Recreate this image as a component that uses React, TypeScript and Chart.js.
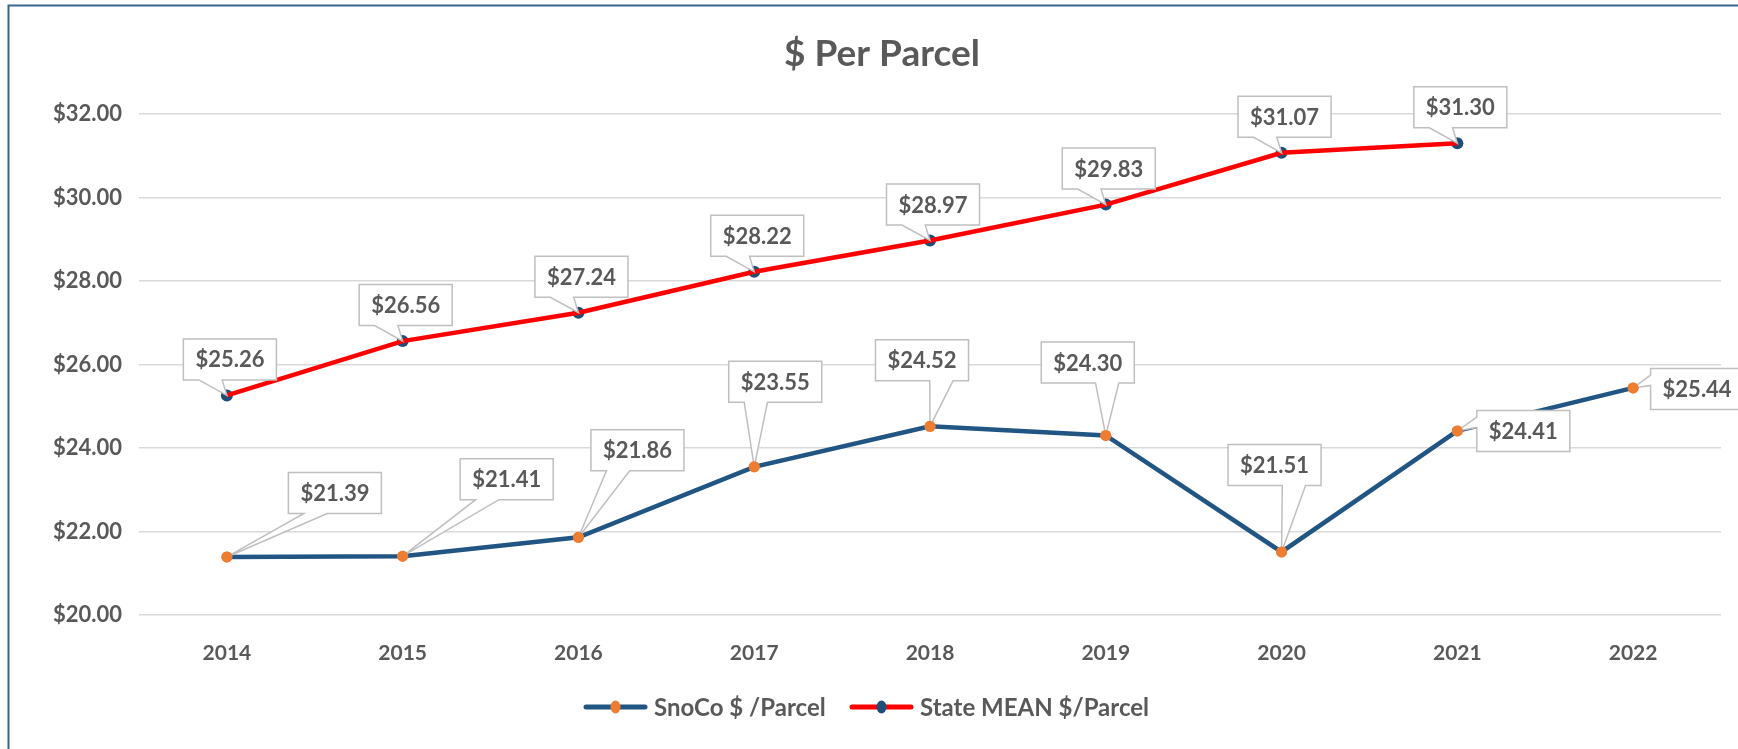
import React, { useEffect, useRef } from 'react';
import { Chart, registerables } from 'chart.js';

Chart.register(...registerables);

// ---------- data ----------
const categories = ['2014', '2015', '2016', '2017', '2018', '2019', '2020', '2021', '2022'];
const snocoValues = [21.39, 21.41, 21.86, 23.55, 24.52, 24.3, 21.51, 24.41, 25.44];
const stateValues: (number | null)[] = [25.26, 26.56, 27.24, 28.22, 28.97, 29.83, 31.07, 31.3, null];
const yTickValues = [20, 22, 24, 26, 28, 30, 32];
const seriesNames = ['SnoCo $ /Parcel', 'State MEAN $/Parcel'];
const chartTitle = '$ Per Parcel';

// ---------- label placement (box centre relative to point, px) ----------
const snocoLabelOffsets = [
  [108, -64],
  [104, -77],
  [59, -87],
  [21, -85],
  [-8, -66],
  [-18, -73],
  [-7, -87],
  [66, 0],
  [64, 1],
];
const stateLabelOffset = [3, -36];

// ---------- styles ----------
const FONT = 'Lato, "Open Sans", "Liberation Sans", sans-serif';
const TEXT = '#595959';
const SNOCO_LINE = '#215583';
const SNOCO_MARK = '#ED7D31';
const STATE_LINE = '#FF0000';
const STATE_MARK = '#1F4E79';
const GRID = '#D9D9D9';
const FRAME = '#3A6591';

const fmt = (v: number) => '$' + v.toFixed(2);

function drawCallout(
  ctx: CanvasRenderingContext2D,
  cx: number,
  cy: number,
  w: number,
  h: number,
  px: number,
  py: number
) {
  const l = cx - w / 2, t = cy - h / 2, r = cx + w / 2, b = cy + h / 2;
  const dx = px - cx, dy = py - cy;
  const dq = (dx * h) / w;
  const vertical = Math.abs(dy) - Math.abs(dq) > 0;
  ctx.beginPath();
  if (vertical) {
    const x1 = l + (w * (dx > 0 ? 7 : 2)) / 12;
    const x2 = l + (w * (dx > 0 ? 10 : 5)) / 12;
    if (dy > 0) {
      ctx.moveTo(l, t); ctx.lineTo(r, t); ctx.lineTo(r, b); ctx.lineTo(x2, b);
      ctx.lineTo(px, py); ctx.lineTo(x1, b); ctx.lineTo(l, b);
    } else {
      ctx.moveTo(l, t); ctx.lineTo(x1, t); ctx.lineTo(px, py); ctx.lineTo(x2, t);
      ctx.lineTo(r, t); ctx.lineTo(r, b); ctx.lineTo(l, b);
    }
  } else {
    const y1 = t + (h * (dy > 0 ? 7 : 2)) / 12;
    const y2 = t + (h * (dy > 0 ? 10 : 5)) / 12;
    if (dx < 0) {
      ctx.moveTo(l, t); ctx.lineTo(r, t); ctx.lineTo(r, b); ctx.lineTo(l, b);
      ctx.lineTo(l, y2); ctx.lineTo(px, py); ctx.lineTo(l, y1);
    } else {
      ctx.moveTo(l, t); ctx.lineTo(r, t); ctx.lineTo(r, y1); ctx.lineTo(px, py);
      ctx.lineTo(r, y2); ctx.lineTo(r, b); ctx.lineTo(l, b);
    }
  }
  ctx.closePath();
  ctx.fillStyle = '#FFFFFF';
  ctx.fill();
  ctx.strokeStyle = '#BFBFBF';
  ctx.lineWidth = 1.5;
  ctx.stroke();
}

const calloutPlugin = {
  id: 'callouts',
  afterDatasetsDraw(chart: any) {
    const ctx: CanvasRenderingContext2D = chart.ctx;
    ctx.save();
    ctx.font = `bold 22px ${FONT}`;
    const drawSet = (dsIndex: number, values: (number | null)[], offsets: (i: number) => number[]) => {
      const meta = chart.getDatasetMeta(dsIndex);
      values.forEach((v, i) => {
        if (v === null || v === undefined) return;
        const pt = meta.data[i];
        const [ox, oy] = offsets(i);
        const text = fmt(v);
        const tw = ctx.measureText(text).width;
        const w = tw + 24;
        const h = 41;
        const cx = pt.x + ox;
        const cy = pt.y + oy;
        drawCallout(ctx, cx, cy, w, h, pt.x, pt.y);
        ctx.fillStyle = TEXT;
        ctx.textAlign = 'center';
        ctx.textBaseline = 'middle';
        ctx.fillText(text, cx, cy + 1);
      });
    };
    drawSet(2, stateValues, () => stateLabelOffset);
    drawSet(0, snocoValues, (i) => snocoLabelOffsets[i]);
    // redraw SnoCo markers above the callout tails
    const meta0 = chart.getDatasetMeta(0);
    meta0.data.forEach((p: any) => p.draw(ctx, chart.chartArea));
    ctx.restore();
  },
  afterDraw(chart: any) {
    const ctx: CanvasRenderingContext2D = chart.ctx;
    ctx.save();
    // frame (left and top edges of the chart area box)
    ctx.strokeStyle = FRAME;
    ctx.lineWidth = 2;
    ctx.beginPath();
    ctx.moveTo(8.5, 749);
    ctx.lineTo(8.5, 5.5);
    ctx.lineTo(1738, 5.5);
    ctx.stroke();

    // title
    ctx.fillStyle = TEXT;
    ctx.font = `bold 37px ${FONT}`;
    ctx.textAlign = 'center';
    ctx.textBaseline = 'middle';
    ctx.fillText(chartTitle, 882, 54);

    // legend
    const ly = 707;
    const items = [
      { x: 586, line: SNOCO_LINE, mark: SNOCO_MARK, label: seriesNames[0] },
      { x: 852, line: STATE_LINE, mark: STATE_MARK, label: seriesNames[1] },
    ];
    ctx.font = `bold 24px ${FONT}`;
    ctx.textAlign = 'left';
    items.forEach((it) => {
      ctx.strokeStyle = it.line;
      ctx.lineWidth = 5;
      ctx.lineCap = 'round';
      ctx.beginPath();
      ctx.moveTo(it.x, ly);
      ctx.lineTo(it.x + 59, ly);
      ctx.stroke();
      ctx.fillStyle = it.mark;
      ctx.beginPath();
      ctx.ellipse(it.x + 29.5, ly, 5, 6.5, 0, 0, Math.PI * 2);
      ctx.fill();
      ctx.fillStyle = TEXT;
      ctx.fillText(it.label, it.x + 68, ly + 1);
    });
    ctx.restore();
  },
};

export default function App() {
  const canvasRef = useRef<HTMLCanvasElement | null>(null);

  useEffect(() => {
    if (!canvasRef.current) return;
    const chart = new Chart(canvasRef.current, {
      type: 'line',
      data: {
        labels: categories,
        datasets: [
          {
            label: seriesNames[0],
            data: snocoValues,
            borderColor: SNOCO_LINE,
            borderWidth: 4.5,
            pointRadius: 5.5,
            pointBackgroundColor: SNOCO_MARK,
            pointBorderWidth: 0,
            tension: 0,
            order: 1,
          },
          {
            label: seriesNames[1] + ' markers',
            data: stateValues,
            showLine: false,
            pointRadius: 6,
            pointBackgroundColor: STATE_MARK,
            pointBorderWidth: 0,
            order: 3,
          },
          {
            label: seriesNames[1],
            data: stateValues,
            borderColor: STATE_LINE,
            borderWidth: 4.5,
            pointRadius: 0,
            tension: 0,
            order: 2,
          },
        ],
      },
      options: {
        animation: false,
        responsive: true,
        maintainAspectRatio: false,
        devicePixelRatio: 1,
        layout: { padding: { top: 114, right: 17, bottom: 0, left: 0 } },
        plugins: {
          legend: { display: false },
          title: { display: false },
          tooltip: { enabled: false },
        },
        scales: {
          x: {
            type: 'category',
            offset: true,
            grid: { display: false, drawTicks: false },
            border: { display: false },
            ticks: {
              color: TEXT,
              font: { family: FONT, size: 21, weight: 'bold' },
              padding: 26,
            },
            afterFit: (s: any) => {
              s.height = 134;
            },
          },
          y: {
            min: 20,
            max: 32,
            afterBuildTicks: (s: any) => {
              s.ticks = yTickValues.map((v) => ({ value: v }));
            },
            grid: { color: GRID, lineWidth: 1.5, drawTicks: false },
            border: { display: false },
            ticks: {
              color: TEXT,
              font: { family: FONT, size: 22, weight: 'bold' },
              padding: 17,
              callback: (v: any) => fmt(Number(v)),
            },
            afterFit: (s: any) => {
              s.width = 139;
            },
          },
        },
      },
      plugins: [calloutPlugin],
    } as any);
    return () => chart.destroy();
  }, []);

  return (
    <div
      style={{
        position: 'fixed',
        left: 0,
        top: 0,
        width: 1738,
        height: 749,
        background: '#FFFFFF',
      }}
    >
      <canvas ref={canvasRef} />
    </div>
  );
}
